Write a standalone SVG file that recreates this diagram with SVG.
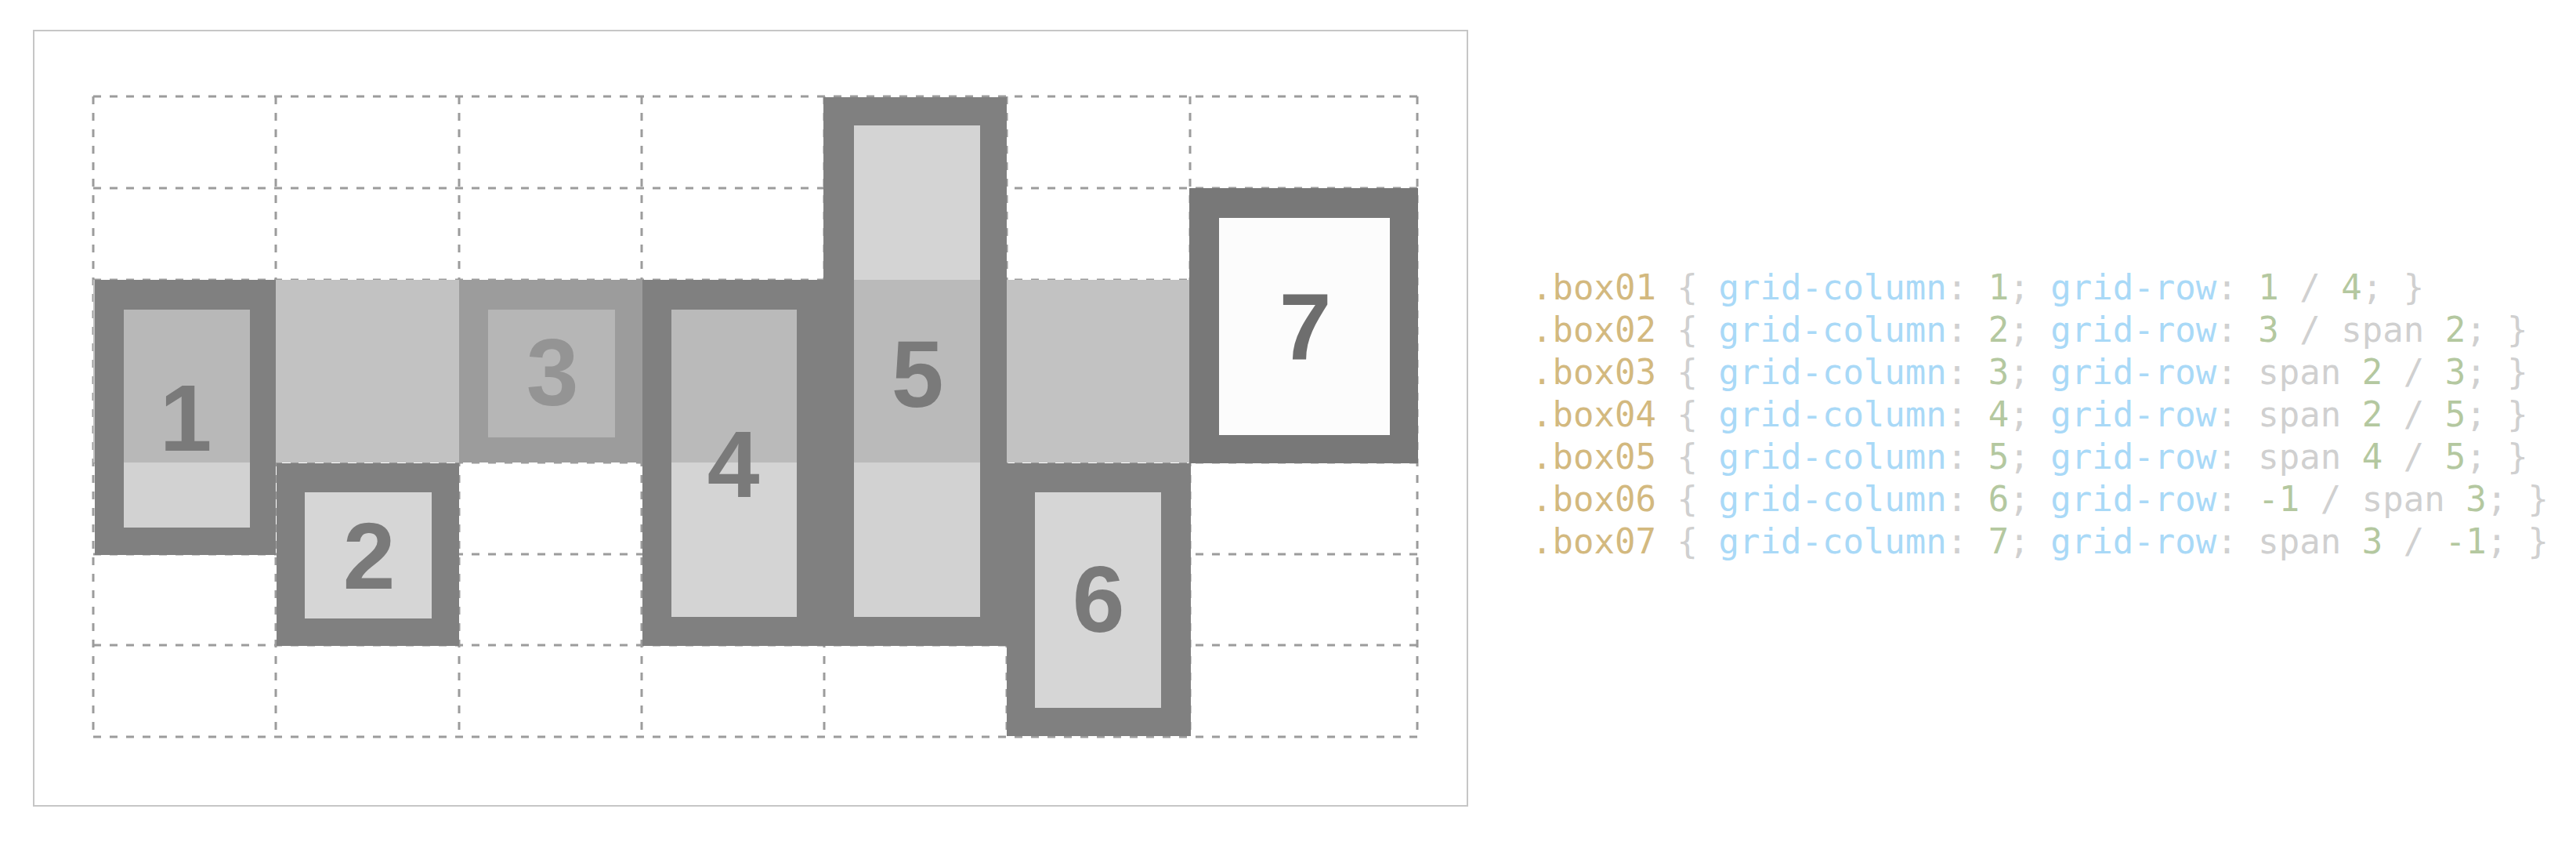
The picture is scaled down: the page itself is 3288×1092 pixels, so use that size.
<svg xmlns="http://www.w3.org/2000/svg" width="3288" height="1092" viewBox="0 0 3288 1092">
<style>
.frame{fill:#ffffff;stroke:#c6c6c6;stroke-width:2}
.grid line{stroke:#9c9c9c;stroke-width:3;stroke-dasharray:10 11}
.border{fill:#808080}
.lbl{font-family:"Liberation Sans",Arial,sans-serif;font-weight:bold;font-size:120px;text-anchor:middle;fill:#7a7a7a}
.code{font-family:"DejaVu Sans Mono","Liberation Mono",monospace;font-size:44px}
.sel{fill:#d3b97f}
.pun{fill:#d0d0d0}
.prop{fill:#a9d9f7}
.num{fill:#b4c8a0}
</style>
<rect width="3288" height="1092" fill="#ffffff"/>
<rect class="frame" x="43" y="39" width="1830" height="989"/>
<g id="grid" class="grid">
<line x1="119" y1="123" x2="119" y2="940"/>
<line x1="352" y1="123" x2="352" y2="940"/>
<line x1="586" y1="123" x2="586" y2="940"/>
<line x1="819" y1="123" x2="819" y2="940"/>
<line x1="1052" y1="123" x2="1052" y2="940"/>
<line x1="1285" y1="123" x2="1285" y2="940"/>
<line x1="1519" y1="123" x2="1519" y2="940"/>
<line x1="1809" y1="123" x2="1809" y2="940"/>
<line x1="119" y1="123" x2="1809" y2="123"/>
<line x1="119" y1="240" x2="1809" y2="240"/>
<line x1="119" y1="357" x2="1809" y2="357"/>
<line x1="119" y1="473" x2="1809" y2="473"/>
<line x1="119" y1="590" x2="1809" y2="590"/>
<line x1="119" y1="707" x2="1809" y2="707"/>
<line x1="119" y1="823" x2="1809" y2="823"/>
<line x1="119" y1="940" x2="1809" y2="940"/>
</g>
<rect id="band" x="119" y="357" width="1400" height="233" fill="#c2c2c2"/>
<g id="box01">
<rect class="border" x="121" y="357" width="231" height="351"/>
<rect x="158" y="395" width="161" height="195" fill="#b8b8b8"/>
<rect x="158" y="590" width="161" height="83" fill="#d2d2d2"/>
<text class="lbl" x="237" y="575">1</text>
</g>
<g id="box02">
<rect class="border" x="353" y="591" width="233" height="233" fill="#868686"/>
<rect x="389" y="628" width="162" height="161" fill="#d6d6d6"/>
<text class="lbl" x="471" y="751">2</text>
</g>
<g id="box03">
<rect x="586" y="357" width="234" height="233" fill="#9c9c9c"/>
<rect x="623" y="395" width="162" height="163" fill="#b6b6b6"/>
<text class="lbl" x="705" y="517" fill="#949494" style="fill:#949494">3</text>
</g>
<g id="box04">
<rect class="border" x="820" y="357" width="232" height="467"/>
<rect x="857" y="395" width="160" height="195" fill="#bababa"/>
<rect x="857" y="590" width="160" height="197" fill="#d4d4d4"/>
<text class="lbl" x="936" y="634">4</text>
</g>
<g id="box05">
<rect class="border" x="1051" y="124" width="234" height="700"/>
<rect x="1090" y="160" width="161" height="197" fill="#d4d4d4"/>
<rect x="1090" y="357" width="161" height="233" fill="#bababa"/>
<rect x="1090" y="590" width="161" height="197" fill="#d2d2d2"/>
<text class="lbl" x="1171" y="519">5</text>
</g>
<g id="box06">
<rect class="border" x="1285" y="591" width="235" height="348"/>
<rect x="1321" y="628" width="161" height="275" fill="#d6d6d6"/>
<text class="lbl" x="1402" y="806">6</text>
</g>
<g id="box07">
<rect class="border" x="1518" y="240" width="292" height="351" style="fill:#787878"/>
<rect x="1556" y="278" width="218" height="277" fill="#fcfcfc"/>
<text class="lbl" x="1666" y="458" style="fill:#6e6e6e">7</text>
</g>
<g id="connectors"></g>
<g id="code" class="code" xml:space="preserve">
<text x="1955" y="382"><tspan class="sel">.box01</tspan><tspan class="pun"> { </tspan><tspan class="prop">grid-column</tspan><tspan class="pun">: </tspan><tspan class="num">1</tspan><tspan class="pun">; </tspan><tspan class="prop">grid-row</tspan><tspan class="pun">: </tspan><tspan class="num">1</tspan><tspan class="pun"> / </tspan><tspan class="num">4</tspan><tspan class="pun">; }</tspan></text>
<text x="1955" y="436"><tspan class="sel">.box02</tspan><tspan class="pun"> { </tspan><tspan class="prop">grid-column</tspan><tspan class="pun">: </tspan><tspan class="num">2</tspan><tspan class="pun">; </tspan><tspan class="prop">grid-row</tspan><tspan class="pun">: </tspan><tspan class="num">3</tspan><tspan class="pun"> / span </tspan><tspan class="num">2</tspan><tspan class="pun">; }</tspan></text>
<text x="1955" y="490"><tspan class="sel">.box03</tspan><tspan class="pun"> { </tspan><tspan class="prop">grid-column</tspan><tspan class="pun">: </tspan><tspan class="num">3</tspan><tspan class="pun">; </tspan><tspan class="prop">grid-row</tspan><tspan class="pun">: span </tspan><tspan class="num">2</tspan><tspan class="pun"> / </tspan><tspan class="num">3</tspan><tspan class="pun">; }</tspan></text>
<text x="1955" y="544"><tspan class="sel">.box04</tspan><tspan class="pun"> { </tspan><tspan class="prop">grid-column</tspan><tspan class="pun">: </tspan><tspan class="num">4</tspan><tspan class="pun">; </tspan><tspan class="prop">grid-row</tspan><tspan class="pun">: span </tspan><tspan class="num">2</tspan><tspan class="pun"> / </tspan><tspan class="num">5</tspan><tspan class="pun">; }</tspan></text>
<text x="1955" y="598"><tspan class="sel">.box05</tspan><tspan class="pun"> { </tspan><tspan class="prop">grid-column</tspan><tspan class="pun">: </tspan><tspan class="num">5</tspan><tspan class="pun">; </tspan><tspan class="prop">grid-row</tspan><tspan class="pun">: span </tspan><tspan class="num">4</tspan><tspan class="pun"> / </tspan><tspan class="num">5</tspan><tspan class="pun">; }</tspan></text>
<text x="1955" y="652"><tspan class="sel">.box06</tspan><tspan class="pun"> { </tspan><tspan class="prop">grid-column</tspan><tspan class="pun">: </tspan><tspan class="num">6</tspan><tspan class="pun">; </tspan><tspan class="prop">grid-row</tspan><tspan class="pun">: </tspan><tspan class="num">-1</tspan><tspan class="pun"> / span </tspan><tspan class="num">3</tspan><tspan class="pun">; }</tspan></text>
<text x="1955" y="706"><tspan class="sel">.box07</tspan><tspan class="pun"> { </tspan><tspan class="prop">grid-column</tspan><tspan class="pun">: </tspan><tspan class="num">7</tspan><tspan class="pun">; </tspan><tspan class="prop">grid-row</tspan><tspan class="pun">: span </tspan><tspan class="num">3</tspan><tspan class="pun"> / </tspan><tspan class="num">-1</tspan><tspan class="pun">; }</tspan></text>
</g>
</svg>
